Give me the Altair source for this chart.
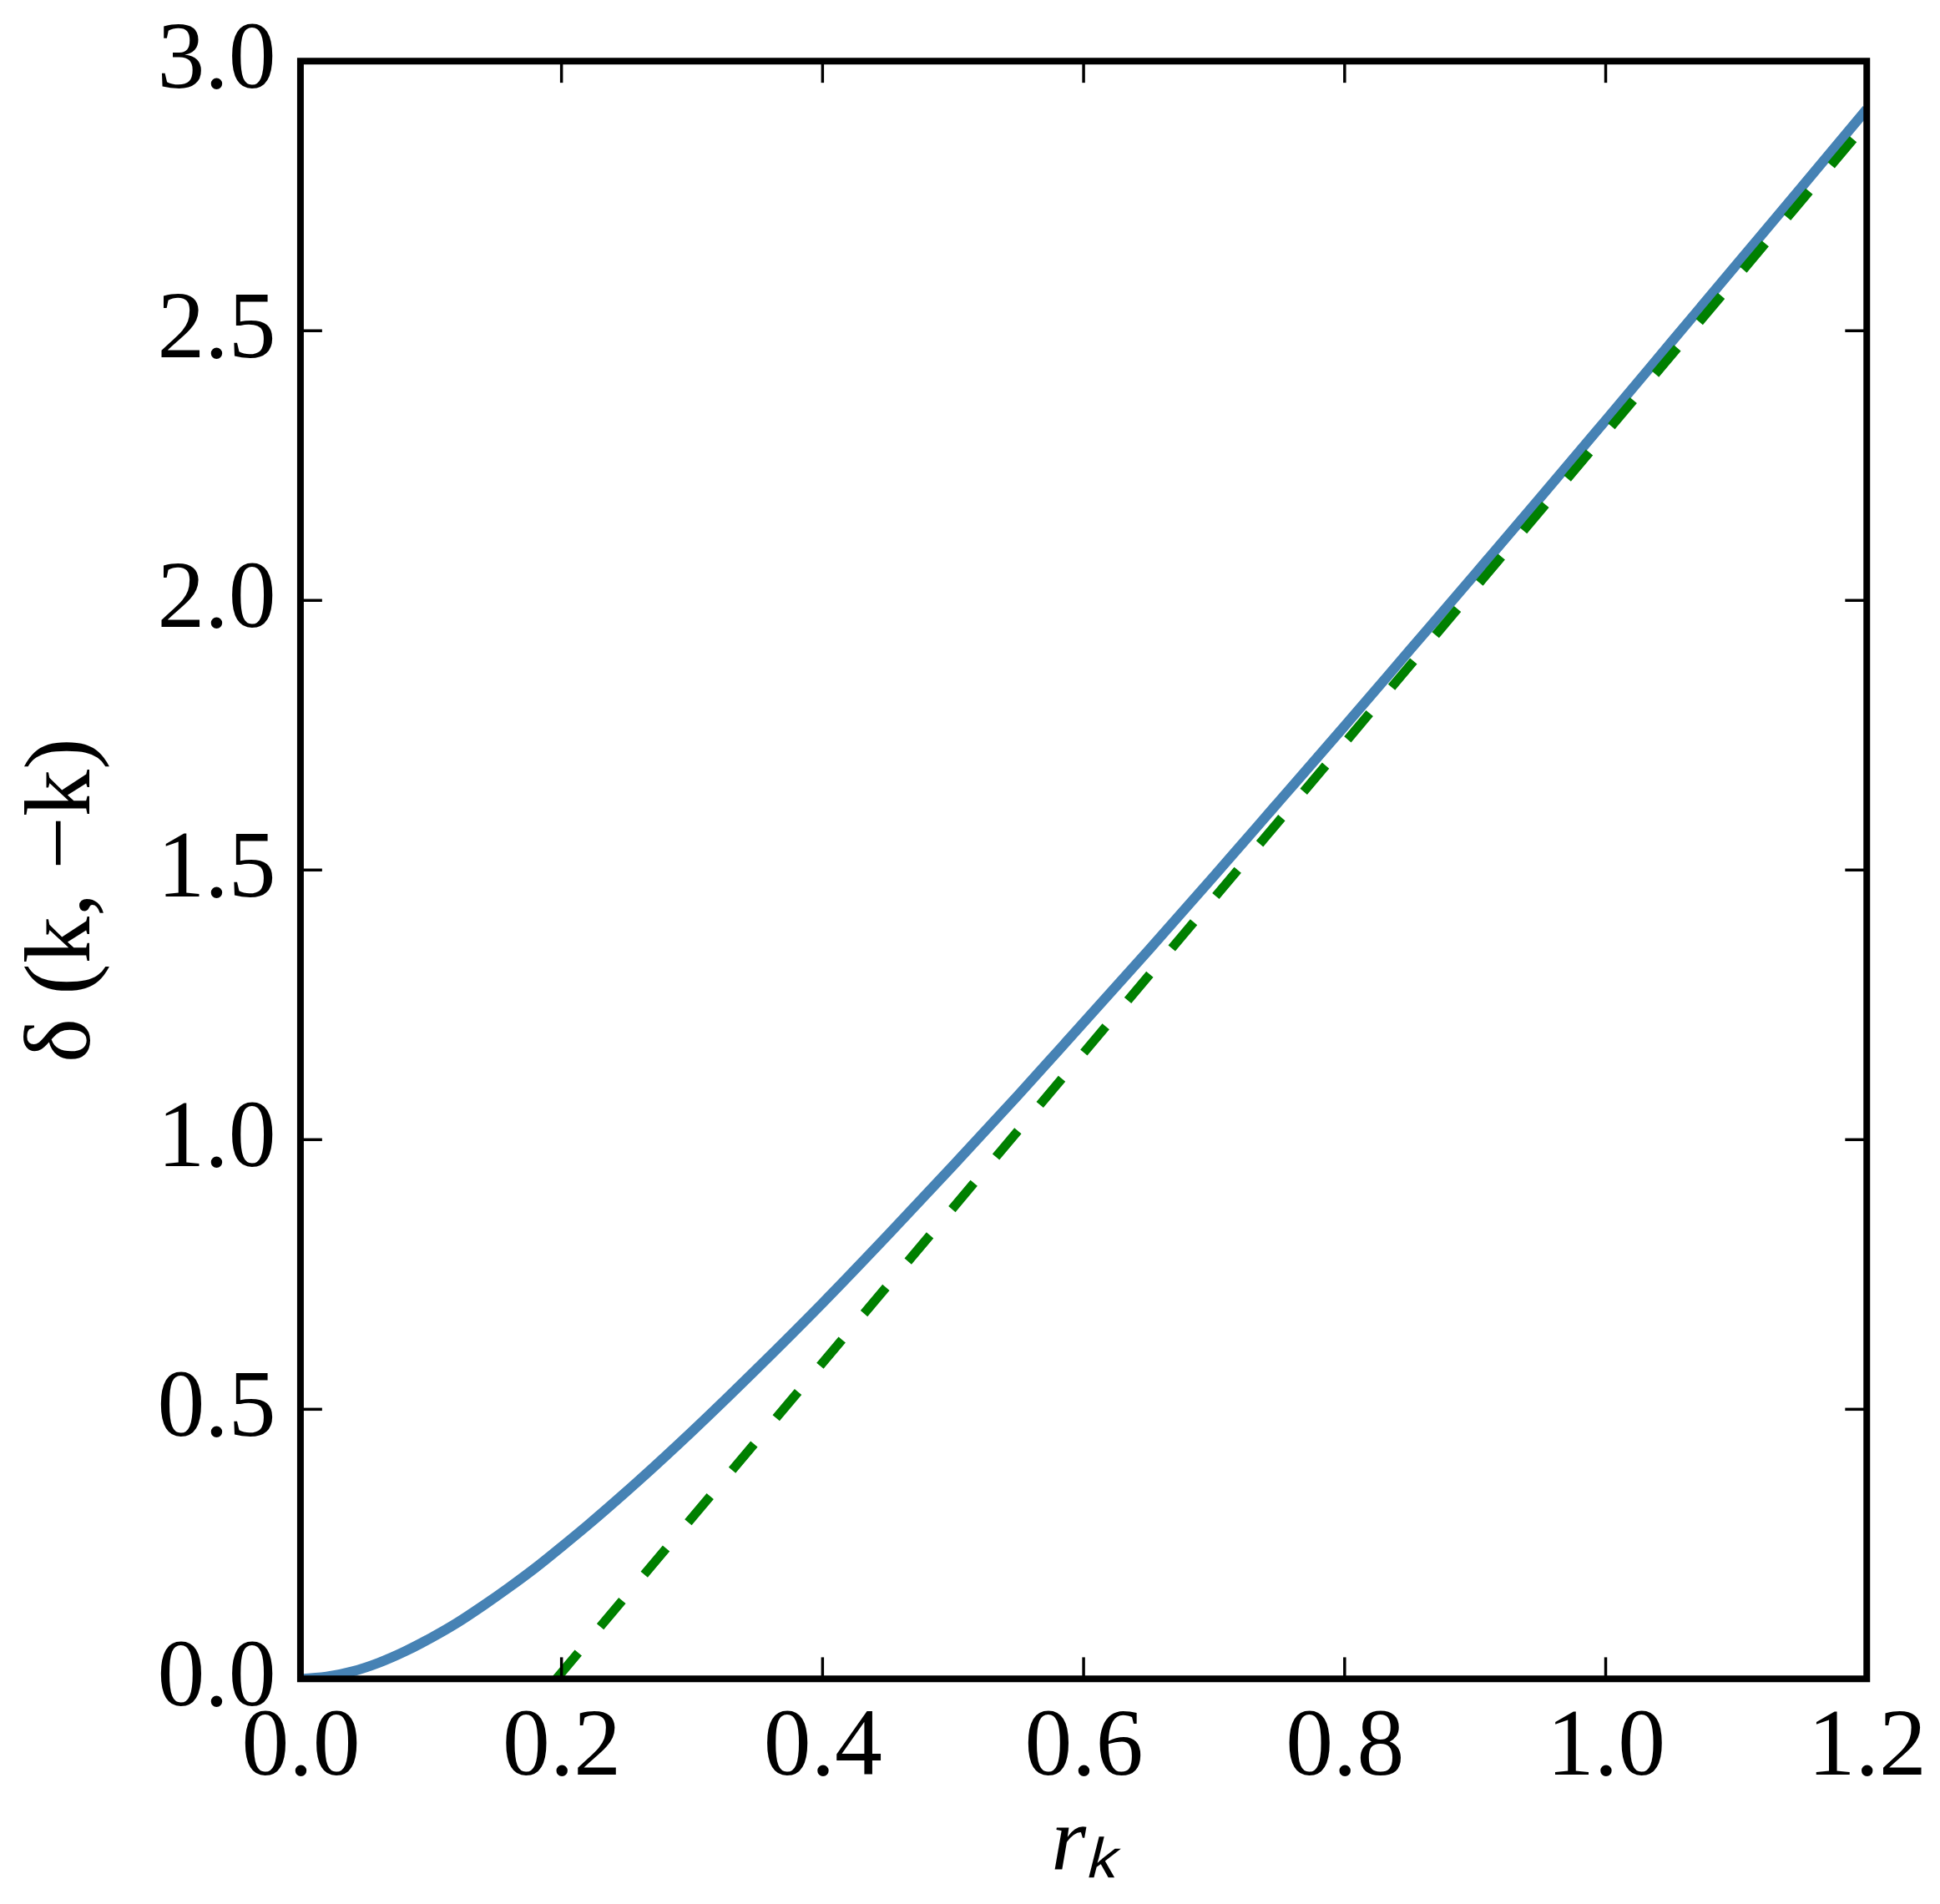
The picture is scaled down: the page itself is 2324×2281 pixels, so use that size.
import altair as alt
import pandas as pd

# ---- data ----
r_blue = [0.0, 0.02, 0.04, 0.06, 0.08, 0.10, 0.12, 0.14, 0.16, 0.18, 0.20, 0.22,
          0.25, 0.30, 0.35, 0.40, 0.45, 0.50, 0.55, 0.60, 0.65, 0.70, 0.75, 0.80,
          0.85, 0.90, 0.95, 1.00, 1.05, 1.10, 1.15, 1.20]
d_blue = [0.0, 0.004, 0.014, 0.030, 0.051, 0.076, 0.104, 0.136, 0.170, 0.206, 0.245, 0.285,
          0.348, 0.459, 0.576, 0.697, 0.823, 0.952, 1.083, 1.217, 1.352, 1.489, 1.628, 1.767,
          1.908, 2.049, 2.191, 2.334, 2.478, 2.622, 2.766, 2.911]

r_green = [0.196, 1.20]
d_green = [0.0, 2.885]

x_ticks = [0.0, 0.2, 0.4, 0.6, 0.8, 1.0, 1.2]
y_ticks = [0.0, 0.5, 1.0, 1.5, 2.0, 2.5, 3.0]

W, H = 1882, 1944
FONT = "Liberation Serif"
TICK = 26

blue_df = pd.DataFrame({"r": r_blue, "d": d_blue})
green_df = pd.DataFrame({"r": r_green, "d": d_green})
xt_df = pd.DataFrame({"r": x_ticks})
yt_df = pd.DataFrame({"d": y_ticks})
frame_df = pd.DataFrame({"a": [0]})

xscale = alt.Scale(domain=[0, 1.2], nice=False, zero=False)
yscale = alt.Scale(domain=[0, 3.0], nice=False, zero=False)

x_axis = alt.Axis(
    values=x_ticks, format=".1f", title="rₖ", ticks=False, domain=False, grid=False,
    labelFont=FONT, labelFontSize=114, labelColor="black", labelPadding=24,
    labelFlush=False, labelOverlap=False,
    titleFont=FONT, titleFontSize=108, titleFontStyle="italic", titleFontWeight="normal",
    titleColor="black", titleY=228, titleBaseline="alphabetic",
)
y_axis = alt.Axis(
    values=y_ticks, format=".1f", title="δ (k, −k)", ticks=False, domain=False, grid=False,
    labelFont=FONT, labelFontSize=114, labelColor="black", labelPadding=30, labelOffset=-3,
    labelFlush=False, labelOverlap=False,
    titleFont=FONT, titleFontSize=113, titleFontWeight="normal", titleColor="black",
    titleAngle=270, titleX=-254, titleY=1008, titleBaseline="alphabetic", titleAlign="center",
)

X = alt.X("r:Q", scale=xscale, axis=x_axis)
Y = alt.Y("d:Q", scale=yscale, axis=y_axis)

blue = alt.Chart(blue_df).mark_line(
    color="#4682B4", strokeWidth=12, clip=True, interpolate="monotone"
).encode(x=X, y=Y)

green = alt.Chart(green_df).mark_line(
    color="#008000", strokeWidth=11, strokeDash=[41, 41], strokeCap="butt", clip=True
).encode(x=X, y=Y)

tick_style = dict(color="black", strokeWidth=3.5)
xt_bottom = alt.Chart(xt_df).mark_rule(**tick_style).encode(
    x=X, y=alt.value(H), y2=alt.value(H - TICK))
xt_top = alt.Chart(xt_df).mark_rule(**tick_style).encode(
    x=X, y=alt.value(0), y2=alt.value(TICK))
yt_left = alt.Chart(yt_df).mark_rule(**tick_style).encode(
    y=Y, x=alt.value(0), x2=alt.value(TICK))
yt_right = alt.Chart(yt_df).mark_rule(**tick_style).encode(
    y=Y, x=alt.value(W), x2=alt.value(W - TICK))

frame = alt.Chart(frame_df).mark_rect(
    fill="transparent", stroke="black", strokeWidth=8
).encode(x=alt.value(0), x2=alt.value(W), y=alt.value(0), y2=alt.value(H))

chart = alt.layer(blue, green, xt_bottom, xt_top, yt_left, yt_right, frame).properties(
    width=W, height=H,
    autosize=alt.AutoSizeParams(type="none"),
    padding={"left": 353, "top": 62, "right": 80, "bottom": 255},
    background="white",
).configure_view(stroke=None)

chart.save("out.html", embed_options={"renderer": "svg", "actions": False})
